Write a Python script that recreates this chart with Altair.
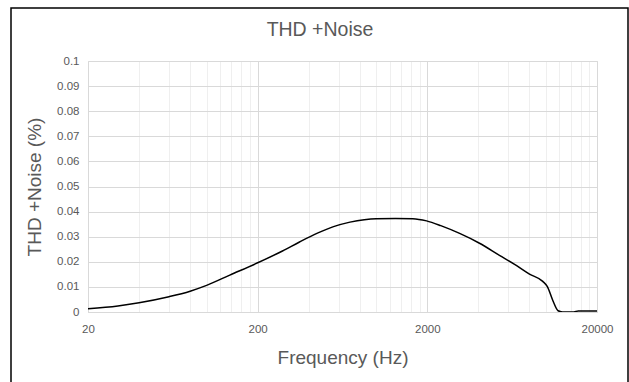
import altair as alt
import pandas as pd

# THD+N measurement across the audio band
freq_hz = [20, 30, 40, 60, 80, 100, 137, 200, 280, 355, 450, 560, 700,
           850, 1000, 1300, 1640, 1980, 2400, 3100, 4060, 5320, 6500, 8000, 9580,
           10200, 10980, 11800, 12500, 14600, 15500, 20000]
thdn_pct = [0.0013, 0.0024, 0.0037, 0.0061, 0.0083, 0.0106, 0.0147, 0.0196,
            0.0243, 0.0280, 0.0314, 0.0340, 0.0358, 0.0368, 0.0372, 0.0373,
            0.0372, 0.0363, 0.0344, 0.0313, 0.0274, 0.0226, 0.0191, 0.0151, 0.0122,
            0.0101, 0.0046, 0.0005, 0.0, 0.0, 0.0004, 0.0004]

chart_title = "THD +Noise"
x_ticks = [20, 40, 60, 80, 100, 120, 140, 160, 180,
           200, 400, 600, 800, 1000, 1200, 1400, 1600, 1800,
           2000, 4000, 6000, 8000, 10000, 12000, 14000, 16000, 18000,
           20000]
y_ticks = [0, 0.01, 0.02, 0.03, 0.04, 0.05, 0.06, 0.07, 0.08, 0.09, 0.1]

df = pd.DataFrame({"freq": freq_hz, "thdn": thdn_pct})

FONT = "Liberation Sans"
GREY = "#595959"
major_test = "indexof([20, 200, 2000, 20000], datum.value) >= 0"

x_axis = alt.Axis(
    values=x_ticks,
    labelExpr=f"{major_test} ? toString(datum.value) : ''",
    labelOverlap=False,
    labelFlush=False,
    labelFontSize=11.5,
    labelColor=GREY,
    labelFont=FONT,
    labelPadding=11,
    ticks=False,
    domainColor="#d9d9d9",
    gridColor={"condition": {"test": major_test, "value": "#d9d9d9"}, "value": "#efefef"},
    title="Frequency (Hz)",
    titleFontSize=19,
    titleFontWeight="normal",
    titleColor=GREY,
    titleFont=FONT,
    titlePadding=14,
)

y_axis = alt.Axis(
    values=y_ticks,
    labelExpr="toString(datum.value)",
    labelFlush=False,
    labelFontSize=11.5,
    labelColor=GREY,
    labelFont=FONT,
    labelPadding=9,
    ticks=False,
    domain=False,
    gridColor="#d9d9d9",
    title="THD +Noise (%)",
    titleFontSize=19,
    titleFontWeight="normal",
    titleColor=GREY,
    titleFont=FONT,
    titlePadding=12,
)

curve = alt.Chart(df).mark_line(
    color="black", strokeWidth=1.5, interpolate="monotone", clip=True
).encode(
    x=alt.X("freq:Q", scale=alt.Scale(type="log", domain=[20, 20000], nice=False), axis=x_axis),
    y=alt.Y("thdn:Q", scale=alt.Scale(domain=[0, 0.1], nice=False, zero=True), axis=y_axis),
)

one_row = pd.DataFrame({"label": [chart_title]})

# outer frame of the chart area
frame = alt.Chart(one_row).mark_rect(
    fillOpacity=0, stroke="black", strokeWidth=1.5
).encode(
    x=alt.value(-77), x2=alt.value(540), y=alt.value(-53), y2=alt.value(340)
)

# chart heading, centred over the framed area
heading = alt.Chart(one_row).mark_text(
    font=FONT, fontSize=19.5, color=GREY, align="center", baseline="alphabetic"
).encode(
    text="label:N", x=alt.value(232), y=alt.value(-25)
)

chart = alt.layer(curve, frame, heading).properties(
    width=509,
    height=251,
    padding={"left": 88, "top": 61, "right": 32, "bottom": 70},
    autosize=alt.AutoSizeParams(type="none"),
).configure_view(stroke=None).configure(background="white")

chart.save("out.html", embed_options={"renderer": "svg", "actions": False})
